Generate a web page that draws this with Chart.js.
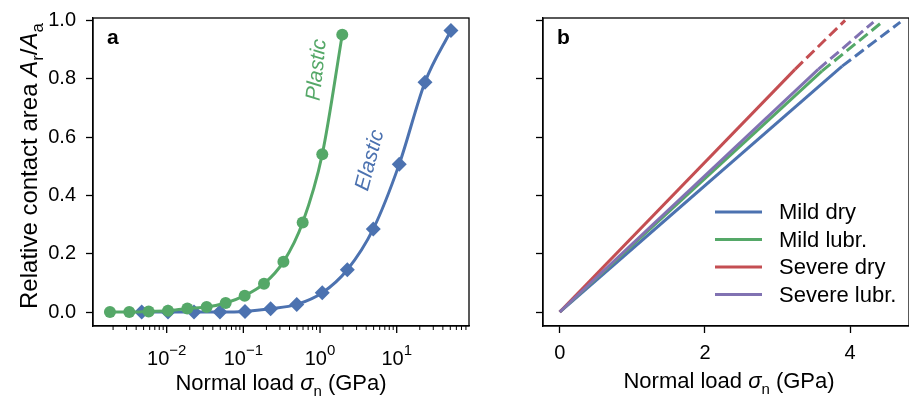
<!DOCTYPE html>
<html>
<head>
<meta charset="utf-8">
<script src="https://cdn.jsdelivr.net/npm/chart.js@4.4.1/dist/chart.umd.min.js"></script>
<style>
  html, body { margin: 0; padding: 0; background: #fff; }
  #wrap { position: relative; width: 909px; height: 406px; overflow: hidden; }
  canvas { position: absolute; top: 0; }
  #left { left: 0; }
  #right { left: 480px; }
</style>
</head>
<body>
<div id="wrap">
  <canvas id="left" width="480" height="406"></canvas>
  <canvas id="right" width="429" height="406"></canvas>
</div>
<script>
// panel a - contact area vs load, log axis
var plasticLoad = [0.00182, 0.00325, 0.00582, 0.0104, 0.0186, 0.0332, 0.0588, 0.104, 0.186, 0.333, 0.594, 1.07, 1.95];
var plasticArea = [0.0, 0.0, 0.002, 0.004, 0.012, 0.017, 0.031, 0.056, 0.097, 0.172, 0.307, 0.541, 0.951];
var elasticLoad = [0.00472, 0.0104, 0.0227, 0.0495, 0.105, 0.227, 0.497, 1.07, 2.27, 4.95, 10.8, 23.4, 51];
var elasticArea = [0.0, 0.0, 0.0, 0.0, 0.002, 0.011, 0.026, 0.066, 0.145, 0.285, 0.507, 0.788, 0.965];
var logDecades = [-2, -1, 0, 1];

// panel b - fitted lines, solid part then dashed extrapolation
var regimes = ['Mild dry', 'Mild lubr.', 'Severe dry', 'Severe lubr.'];
var solidEndLoad = [3.89, 3.61, 3.24, 3.56];
var solidEndArea = [0.843, 0.826, 0.832, 0.832];
var dashEndLoad = [4.69, 4.44, 3.93, 4.32];
var dashEndArea = [0.994, 0.994, 1.0, 0.994];
var linTicks = [0, 2, 4];

var FONT = "'Liberation Sans', Arial, sans-serif";
var BLUE = '#4c72b0', GREEN = '#55a868', RED = '#c44e52', PURPLE = '#8172b2';
var regimeColors = [BLUE, GREEN, RED, PURPLE];
var yMin = -0.048, yMax = 1.008;

// draw text made of pieces: [text, kind]  kind: n normal, i italic, s subscript, p superscript
function fontFor(kind, size) {
    if (kind == 'i') return 'italic ' + size + 'px ' + FONT;
    if (kind == 's') return Math.round(size * 0.7) + 'px ' + FONT;
    if (kind == 'p') return Math.round(size * 0.75) + 'px ' + FONT;
    return size + 'px ' + FONT;
}
function richWidth(ctx, parts, size) {
    var w = 0;
    parts.forEach(function (p) {
        ctx.font = fontFor(p[1], size);
        w += ctx.measureText(p[0]).width;
    });
    return w;
}
function drawRich(ctx, parts, cx, baseY, size) {
    var x = cx - richWidth(ctx, parts, size) / 2;
    ctx.textAlign = 'left';
    ctx.textBaseline = 'alphabetic';
    parts.forEach(function (p) {
        ctx.font = fontFor(p[1], size);
        var dy = p[1] == 's' ? size * 0.25 : (p[1] == 'p' ? -size * 0.5 : 0);
        ctx.fillText(p[0], x, baseY + dy);
        x += ctx.measureText(p[0]).width;
    });
}

function frame(chart, letter) {
    var ctx = chart.ctx, a = chart.chartArea;
    ctx.save();
    ctx.strokeStyle = '#000';
    ctx.lineWidth = 1.3;
    ctx.strokeRect(a.left, a.top, a.right - a.left, a.bottom - a.top);
    ctx.fillStyle = '#000';
    ctx.font = 'bold 21px ' + FONT;
    ctx.textAlign = 'left';
    ctx.textBaseline = 'alphabetic';
    ctx.fillText(letter, a.left + 14, a.top + 26);
    ctx.restore();
}

var xTitle = [['Normal load ', 'n'], ['\u03c3', 'i'], ['n', 's'], [' (GPa)', 'n']];

function yAxis(showLabels, width) {
    return {
        min: yMin, max: yMax,
        ticks: {
            display: showLabels, stepSize: 0.2, includeBounds: false, color: '#000', padding: 10,
            font: { family: FONT, size: 20 },
            callback: function (v) { return v.toFixed(1); }
        },
        grid: { drawOnChartArea: false, drawTicks: true, tickLength: 7, tickColor: '#000', tickWidth: 1.3 },
        border: { display: true, color: '#000', width: 1.3 },
        afterFit: function (s) { s.width = width; s.paddingTop = 0; s.paddingBottom = 0; }
    };
}

var panelA = {
    id: 'panelA',
    afterDraw: function (chart) {
        var ctx = chart.ctx, a = chart.chartArea, xs = chart.scales.x, ys = chart.scales.y;
        frame(chart, 'a');
        ctx.save();
        // log ticks, major + minor
        ctx.strokeStyle = '#000';
        for (var e = -3; e <= 1; e++) {
            for (var m = 1; m <= 9; m++) {
                var v = m * Math.pow(10, e);
                if (v < xs.min || v > xs.max) continue;
                var px = xs.getPixelForValue(v);
                ctx.lineWidth = m == 1 ? 1.3 : 1;
                ctx.beginPath();
                ctx.moveTo(px, a.bottom);
                ctx.lineTo(px, a.bottom + (m == 1 ? 7 : 4));
                ctx.stroke();
            }
        }
        ctx.fillStyle = '#000';
        logDecades.forEach(function (e) {
            var px = xs.getPixelForValue(Math.pow(10, e));
            var expo = (e < 0 ? '\u2212' : '') + Math.abs(e);
            drawRich(ctx, [['10', 'n'], [expo, 'p']], px, a.bottom + 39, 20);
        });
        drawRich(ctx, xTitle, (a.left + a.right) / 2, 390, 22);
        // y title
        ctx.save();
        ctx.translate(37, 166);
        ctx.rotate(-Math.PI / 2);
        drawRich(ctx, [['Relative contact area ', 'n'], ['A', 'i'], ['r', 's'], ['/', 'n'], ['A', 'i'], ['a', 's']], 0, 0, 24);
        ctx.restore();
        // curve labels
        var labels = [['Plastic', GREEN, 0.91, 0.83, 84], ['Elastic', BLUE, 4.5, 0.52, 75]];
        labels.forEach(function (l) {
            ctx.save();
            ctx.translate(xs.getPixelForValue(l[2]), ys.getPixelForValue(l[3]));
            ctx.rotate(-l[4] * Math.PI / 180);
            ctx.fillStyle = l[1];
            ctx.font = 'italic 21px ' + FONT;
            ctx.textAlign = 'center';
            ctx.textBaseline = 'middle';
            ctx.fillText(l[0], 0, 0);
            ctx.restore();
        });
        ctx.restore();
    }
};

var panelB = {
    id: 'panelB',
    afterDraw: function (chart) {
        var ctx = chart.ctx;
        frame(chart, 'b');
        ctx.save();
        ctx.fillStyle = '#000';
        drawRich(ctx, xTitle, 249, 388, 22);
        // legend
        regimes.forEach(function (name, i) {
            var y = 212 + i * 27.5;
            ctx.strokeStyle = regimeColors[i];
            ctx.lineWidth = 3;
            ctx.beginPath();
            ctx.moveTo(235, y);
            ctx.lineTo(282, y);
            ctx.stroke();
            ctx.fillStyle = '#000';
            ctx.font = '22px ' + FONT;
            ctx.textAlign = 'left';
            ctx.textBaseline = 'middle';
            ctx.fillText(name, 299, y + 1);
        });
        ctx.restore();
    }
};

function pts(xv, yv) {
    return xv.map(function (x, i) { return { x: x, y: yv[i] }; });
}

new Chart(document.getElementById('left'), {
    type: 'line',
    data: {
        datasets: [
            {
                label: 'Plastic', data: pts(plasticLoad, plasticArea),
                borderColor: GREEN, backgroundColor: GREEN, borderWidth: 3,
                pointStyle: 'circle', pointRadius: 6, pointBorderWidth: 0,
                cubicInterpolationMode: 'monotone', order: 0
            },
            {
                label: 'Elastic', data: pts(elasticLoad, elasticArea),
                borderColor: BLUE, backgroundColor: BLUE, borderWidth: 3,
                pointStyle: 'rectRot', pointRadius: 7.5, pointBorderWidth: 0,
                cubicInterpolationMode: 'monotone', order: 1
            }
        ]
    },
    options: {
        responsive: false, animation: false, devicePixelRatio: 1,
        layout: { padding: { left: 0, top: 18, right: 11, bottom: 0 } },
        plugins: { legend: { display: false }, tooltip: { enabled: false } },
        scales: {
            x: {
                type: 'logarithmic', min: Math.pow(10, -2.961), max: Math.pow(10, 1.943),
                ticks: { display: false }, grid: { display: false },
                border: { display: true, color: '#000', width: 1.3 },
                afterFit: function (s) { s.height = 80; s.paddingLeft = 0; s.paddingRight = 0; }
            },
            y: yAxis(true, 93)
        }
    },
    plugins: [panelA]
});

var bSets = [];
regimes.forEach(function (name, i) {
    bSets.push({
        label: name, data: pts([0, solidEndLoad[i]], [0, solidEndArea[i]]),
        borderColor: regimeColors[i], borderWidth: 3, pointRadius: 0, order: 4 - i
    });
    bSets.push({
        label: name + ' (extrap.)', data: pts([solidEndLoad[i], dashEndLoad[i]], [solidEndArea[i], dashEndArea[i]]),
        borderColor: regimeColors[i], borderWidth: 3, borderDash: [11, 5], pointRadius: 0, order: 4 - i
    });
});

new Chart(document.getElementById('right'), {
    type: 'line',
    data: { datasets: bSets },
    options: {
        responsive: false, animation: false, devicePixelRatio: 1,
        layout: { padding: { left: 0, top: 18, right: 0, bottom: 0 } },
        plugins: { legend: { display: false }, tooltip: { enabled: false } },
        scales: {
            x: {
                type: 'linear', min: -0.23, max: 4.81,
                afterBuildTicks: function (s) { s.ticks = linTicks.map(function (v) { return { value: v }; }); },
                ticks: { color: '#000', padding: 8, font: { family: FONT, size: 20 } },
                grid: { drawOnChartArea: false, drawTicks: true, tickLength: 7, tickColor: '#000', tickWidth: 1.3 },
                border: { display: true, color: '#000', width: 1.3 },
                afterFit: function (s) { s.height = 80; s.paddingLeft = 0; s.paddingRight = 0; }
            },
            y: yAxis(false, 63)
        }
    },
    plugins: [panelB]
});
</script>
</body>
</html>
